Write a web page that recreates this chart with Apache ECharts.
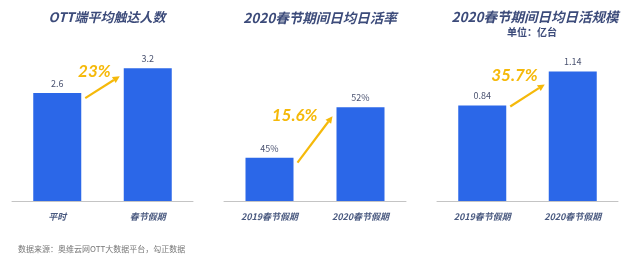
<!DOCTYPE html>
<html><head><meta charset="utf-8">
<script src="https://cdn.jsdelivr.net/npm/echarts@6/dist/echarts.min.js"></script>
<style>html,body{margin:0;padding:0;background:#fff}#c{width:630px;height:256px}</style>
</head><body><div id="c"></div>
<script>
// ---- data ----
const titles = ['OTT端平均触达人数', '2020春节期间日均日活率', '2020春节期间日均日活规模'];
const subtitle3 = '单位：亿台';
const categories1 = ['平时', '春节假期'];
const categories2 = ['2019春节假期', '2020春节假期'];
const categories3 = ['2019春节假期', '2020春节假期'];
const values1 = [2.6, 3.2];
const values2 = [45, 52];
const values3 = [0.84, 1.14];
const growthLabels = ['23%', '15.6%', '35.7%'];
const sourceNote = '数据来源：奥维云网OTT大数据平台，勾正数据';

// ---- styling / layout ----
const FONT = '"Noto Sans CJK SC", "Noto Sans", sans-serif';
const BLUE = '#2b67e8';
const TITLE_COLOR = '#3c4b7a';
const YELLOW = '#f5b90a';
const grids = [
  {left: 12, width: 181, top: 35, bottom: 55},
  {left: 224, width: 182, top: 35, bottom: 55},
  {left: 437, width: 181, top: 35, bottom: 55}
];
const yRanges = [[0, 4], [39, 62], [0, 1.46]];
const cats = [categories1, categories2, categories3];
const vals = [values1, values2, values3];
const fmts = ['{c}', '{c}%', '{c}'];
// arrow offsets (px) relative to bar tops: [startDy, endDy]; text offsets [dx, dy] from arrow end
const arrowOff = [[5, 8], [5, 9], [1, 13]];
const textOff = [[-9, 4], [-15, 8], [-7, 0]];

const chart = echarts.init(document.getElementById('c'), null, {renderer: 'canvas'});

const option = {
  animation: false,
  title: [
    {text: titles[0], left: 102, top: 6, textAlign: 'center', textStyle: {fontFamily: FONT, fontSize: 13, fontWeight: 'bold', fontStyle: 'italic', color: TITLE_COLOR}},
    {text: titles[1], left: 315, top: 6, textAlign: 'center', textStyle: {fontFamily: FONT, fontSize: 13.5, fontWeight: 'bold', fontStyle: 'italic', color: TITLE_COLOR}},
    {text: titles[2], left: 530, top: 5, textAlign: 'center', textStyle: {fontFamily: FONT, fontSize: 13.5, fontWeight: 'bold', fontStyle: 'italic', color: TITLE_COLOR}},
    {text: subtitle3, left: 527, top: 22, textAlign: 'center', textStyle: {fontFamily: FONT, fontSize: 10, fontWeight: 'bold', color: TITLE_COLOR}},
    {text: sourceNote, left: 13, top: 240, textStyle: {fontFamily: FONT, fontSize: 8, fontWeight: 'normal', color: '#777'}}
  ],
  grid: grids,
  xAxis: cats.map((c, i) => ({
    type: 'category', gridIndex: i, data: c,
    axisLine: {lineStyle: {color: '#c4c4c4', width: 1}},
    axisTick: {show: false},
    axisLabel: {margin: 11, fontFamily: FONT, fontSize: 9, fontWeight: 'bold', fontStyle: 'italic', color: '#4a5a80'}
  })),
  yAxis: yRanges.map((r, i) => ({
    type: 'value', gridIndex: i, min: r[0], max: r[1], show: false,
    splitLine: {show: false}
  })),
  series: vals.map((v, i) => ({
    type: 'bar', xAxisIndex: i, yAxisIndex: i, data: v, barWidth: 48,
    itemStyle: {color: BLUE},
    label: {show: true, position: 'top', distance: 5, formatter: fmts[i], fontFamily: FONT, fontSize: 9, color: '#4a5270'}
  }))
};
chart.setOption(option);

// ---- growth arrows placed from bar positions ----
const graphics = [];
vals.forEach((v, i) => {
  const p1 = chart.convertToPixel({xAxisIndex: i, yAxisIndex: i}, [0, v[0]]);
  const p2 = chart.convertToPixel({xAxisIndex: i, yAxisIndex: i}, [1, v[1]]);
  const x1 = p1[0] + 24 + 4, y1 = p1[1] + arrowOff[i][0];
  const x2 = p2[0] - 24 - 4, y2 = p2[1] + arrowOff[i][1];
  const ang = Math.atan2(y2 - y1, x2 - x1);
  const hl = 7, hw = 3.5;
  const bx = x2 - hl * Math.cos(ang), by = y2 - hl * Math.sin(ang);
  graphics.push({
    type: 'line', shape: {x1: x1, y1: y1, x2: bx, y2: by},
    style: {stroke: YELLOW, lineWidth: 2.2}
  });
  graphics.push({
    type: 'polygon',
    shape: {points: [[x2, y2],
      [bx + hw * Math.sin(ang), by - hw * Math.cos(ang)],
      [bx - hw * Math.sin(ang), by + hw * Math.cos(ang)]]},
    style: {fill: YELLOW}
  });
  graphics.push({
    type: 'text', x: x2 + textOff[i][0], y: y2 + textOff[i][1],
    style: {text: growthLabels[i], fill: YELLOW, font: 'italic bold 17px Lato, "Noto Sans", sans-serif',
      align: 'right', verticalAlign: 'bottom'}
  });
});
chart.setOption({graphic: graphics});
</script>
</body></html>
